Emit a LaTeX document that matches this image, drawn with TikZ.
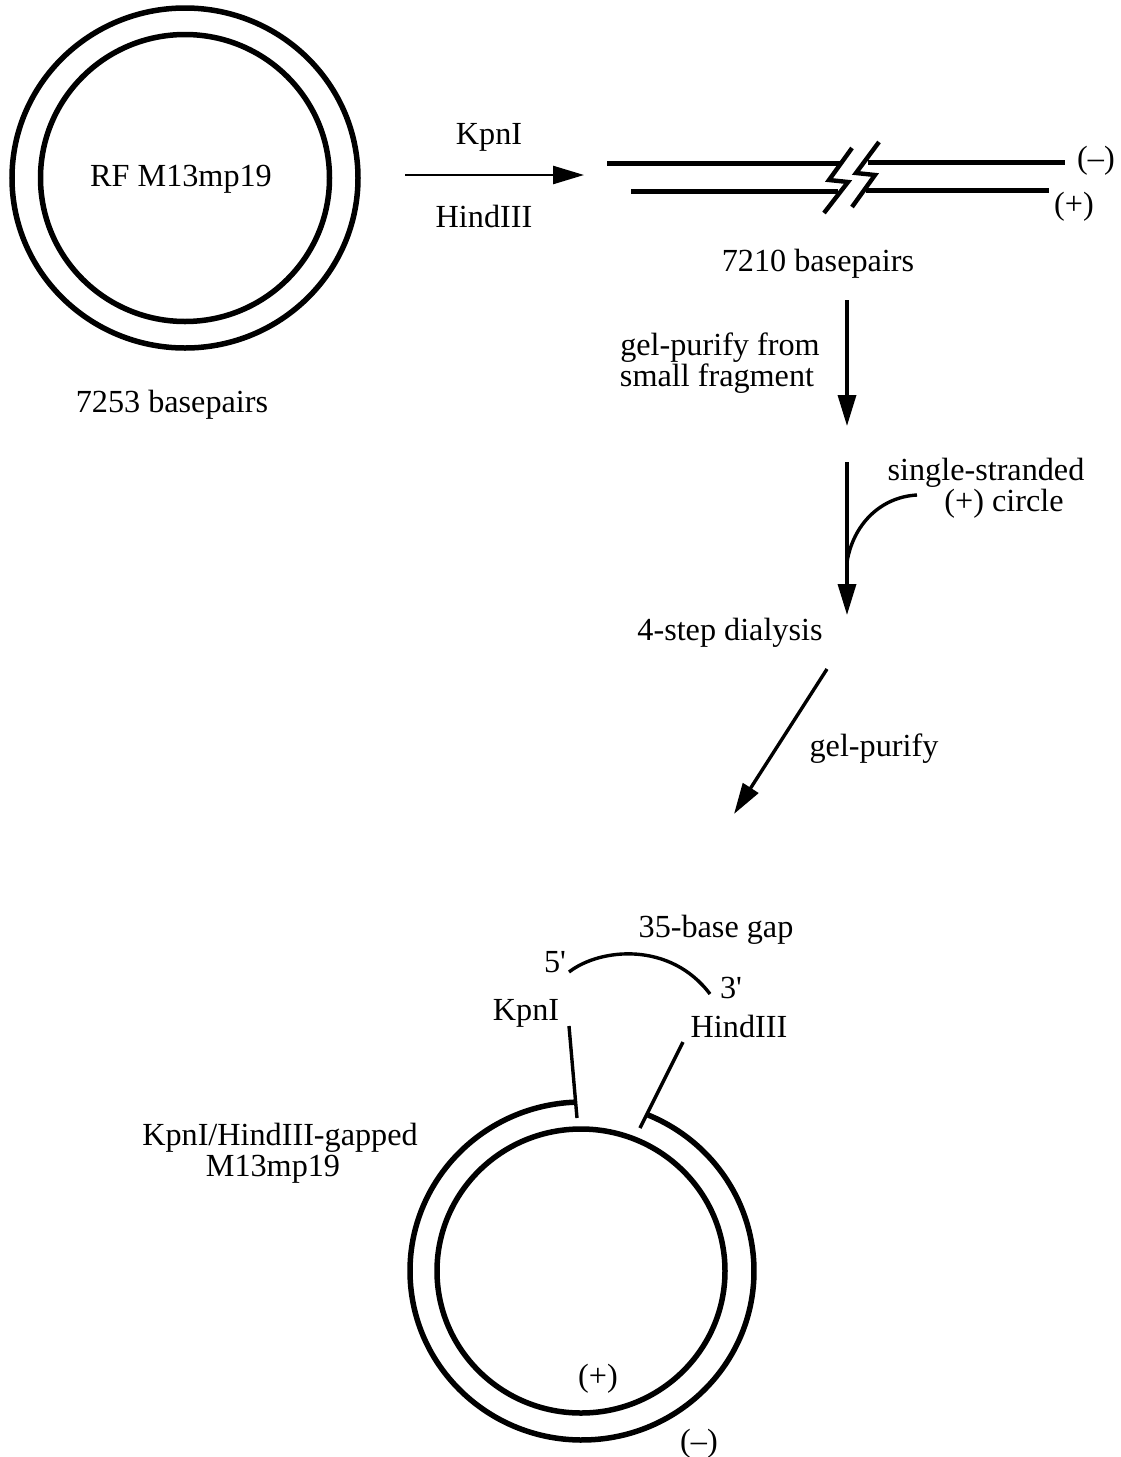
\documentclass[tikz,border=0pt]{standalone}
\usepackage{fontspec}
\setmainfont{Liberation Serif}
\newfontfamily\plainserif{Liberation Serif}
\usetikzlibrary{arrows.meta}
\tikzset{
  lbl/.style={inner sep=0pt,align=center,yshift=-3pt,font=\fontsize{32.2}{31.5}\selectfont},
  thick line/.style={line width=5.5pt,line cap=butt},
  strand/.style={line width=5pt},
  zig/.style={line width=4.4pt,line join=miter},
  thin line/.style={line width=3.4pt},
  arrowline/.style={line width=3.4pt,-{Triangle[length=31pt,width=18pt]}},
  flow/.style={line width=2.6pt,-{Triangle[length=31pt,width=18pt]}},
}
\begin{document}
\begin{tikzpicture}[x=1pt,y=-1pt]
\useasboundingbox (0,0) rectangle (1121,1457);
\fill[white] (0,0) rectangle (1121,1457);
% top plasmid
\coordinate (rfc) at (185,178);
\draw[thick line] (rfc) ellipse[x radius=173,y radius=170];
\draw[thick line] (rfc) ellipse[x radius=144.5,y radius=143.5];
\node[lbl] (rf) at (181,176) {RF M13mp19};
\node[lbl] (bp1) at (172,402) {7253 basepairs};
% digest arrow
\coordinate (a1s) at (405,175);
\coordinate (a1e) at (584,175);
\draw[flow] (a1s) -- (a1e);
\node[lbl] (kpn1) at (489,134) {KpnI};
\node[lbl] (hind1) at (484,213) {HindIII};
% linear duplex
\coordinate (t1) at (607,163); \coordinate (t2) at (841,163);
\coordinate (t3) at (868,162); \coordinate (t4) at (1065,162);
\coordinate (b1) at (631,191); \coordinate (b2) at (838,191);
\coordinate (b3) at (866,190); \coordinate (b4) at (1049,190);
\draw[strand] (t1) -- (t2);
\draw[strand] (t3) -- (t4);
\draw[strand] (b1) -- (b2);
\draw[strand] (b3) -- (b4);
\draw[zig] (852,148) -- (829,180) -- (848,182) -- (824,213);
\draw[zig] (879,142) -- (856,173) -- (875,175) -- (852,207);
\node[lbl] (minus1) at (1096,158) {(–)};
\node[lbl] (plus1) at (1074,204) {(+)};
\node[lbl] (bp2) at (818,261) {7210 basepairs};
% vertical steps
\coordinate (a2s) at (847,300);
\coordinate (a2e) at (847,426);
\draw[arrowline] (a2s) -- (a2e);
\node[lbl] (gel1) at (720,360) {gel-purify from\\small fragment\hspace*{6pt}};
\coordinate (a3s) at (847,462);
\coordinate (a3e) at (847,615);
\draw[arrowline] (a3s) -- (a3e);
\coordinate (cs) at (917,495);
\coordinate (ce) at (847,562);
\draw[thin line] (cs) .. controls (880,497) and (853,525) .. (ce);
\node[lbl] (ss) at (986,485) {single-stranded\\\hspace*{36pt}(+) circle};
\node[lbl] (dial) at (730,630) {4-step dialysis};
\coordinate (a4s) at (827,669);
\coordinate (a4e) at (734,814);
\draw[arrowline] (a4s) -- (a4e);
\node[lbl] (gel2) at (874,746) {gel-purify};
% gap labels
\node[lbl] (gap) at (716,927) {35-base gap};
\node[lbl] (five) at (555,959) {5{\plainserif '}};
\node[lbl] (three) at (731,985) {3{\plainserif '}};
\node[lbl] (kpn2) at (526,1010) {KpnI};
\node[lbl] (hind2) at (739,1023) {HindIII};
\coordinate (gs) at (569,972);
\coordinate (ge) at (710,994);
\draw[thin line] (gs) .. controls (600,948) and (670,941) .. (ge);
% gapped plasmid
\coordinate (gc) at (582,1271);
\draw[thick line] (gc) ++(-92.3:172 and 169) arc[start angle=-92.3,end angle=-427.4,x radius=172,y radius=169];
\draw[thick line] (581,1271) ellipse[x radius=144,y radius=142];
\coordinate (k1) at (569,1026); \coordinate (k2) at (577,1118);
\coordinate (h1) at (683,1042); \coordinate (h2) at (640,1128);
\draw[thin line] (k1) -- (k2);
\draw[thin line] (h1) -- (h2);
\node[lbl] (gapped) at (280,1150) {KpnI/HindIII-gapped\\M13mp19\hspace*{14pt}};
\node[lbl] (plus2) at (598,1376) {(+)};
\node[lbl] (minus2) at (699,1441) {(–)};
\end{tikzpicture}
\end{document}
